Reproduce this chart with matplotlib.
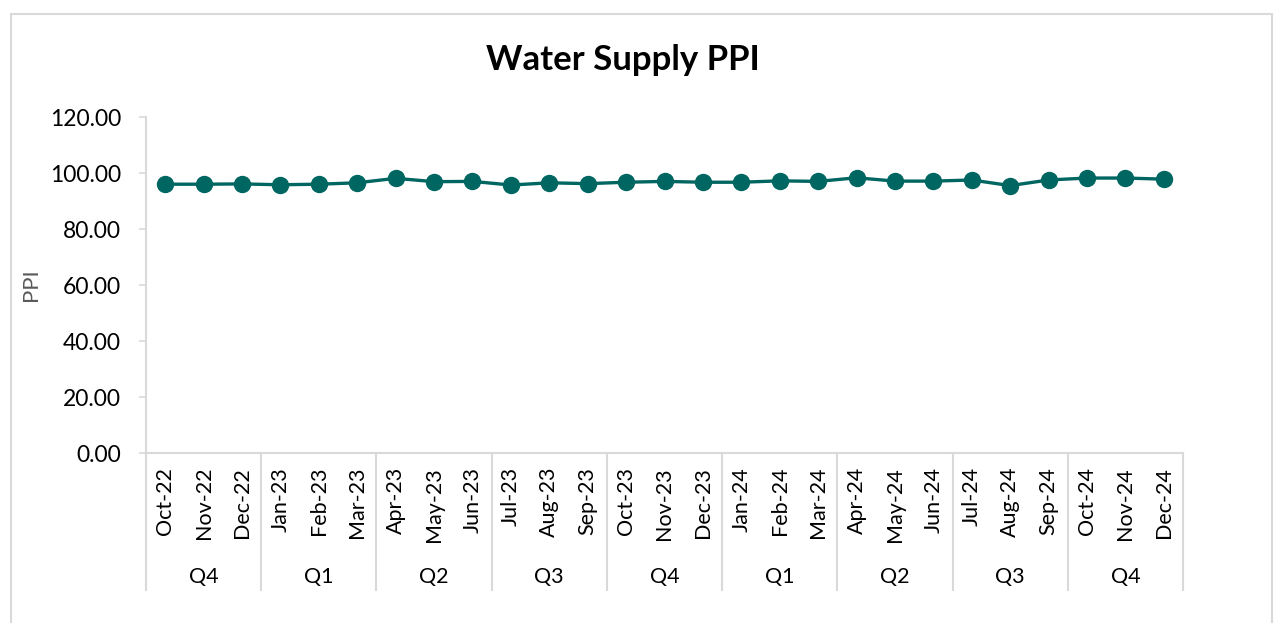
import matplotlib
matplotlib.use("Agg")
import matplotlib.pyplot as plt
from matplotlib.patches import Rectangle
import matplotlib.transforms as mtransforms

months = ["Oct-22", "Nov-22", "Dec-22", "Jan-23", "Feb-23", "Mar-23", "Apr-23", "May-23", "Jun-23",
          "Jul-23", "Aug-23", "Sep-23", "Oct-23", "Nov-23", "Dec-23", "Jan-24", "Feb-24", "Mar-24",
          "Apr-24", "May-24", "Jun-24", "Jul-24", "Aug-24", "Sep-24", "Oct-24", "Nov-24", "Dec-24"]
ppi = [96.0, 96.0, 96.1, 95.8, 96.0, 96.5, 98.1, 96.9, 97.0,
       95.7, 96.5, 96.2, 96.7, 97.0, 96.7, 96.7, 97.2, 97.0,
       98.3, 97.1, 97.1, 97.5, 95.5, 97.5, 98.2, 98.2, 97.8]
quarters = ["Q4", "Q1", "Q2", "Q3", "Q4", "Q1", "Q2", "Q3", "Q4"]
yticks = [0, 20, 40, 60, 80, 100, 120]

plt.rcParams['font.family'] = ['Lato', 'DejaVu Sans']

W, H = 1274, 623
fig = plt.figure(figsize=(W / 100, H / 100), dpi=100)
fig.patch.set_facecolor("white")

# chart border
fig.patches.append(Rectangle((11 / W, -0.01), (1272 - 11) / W, 1 - 14 / H + 0.01,
                             transform=fig.transFigure, fill=False,
                             edgecolor="#d9d9d9", linewidth=1.5))

left, right, top, bottom = 146, 1183, 117, 453
ax = fig.add_axes([left / W, 1 - bottom / H, (right - left) / W, (bottom - top) / H])

x = list(range(len(months)))
ax.plot(x, ppi, color="#006661", linewidth=2.4, marker="o", markersize=11.5,
        markerfacecolor="#006661", markeredgecolor="#006661")

ax.set_xlim(-0.5, len(months) - 0.5)
ax.set_ylim(0, 120)
ax.set_yticks(yticks)
ax.set_yticklabels([f"{v:.2f}" for v in yticks], fontsize=16.5, color="#000000")
ax.tick_params(axis="y", length=5, width=1.2, color="#d9d9d9", pad=13)

ax.set_xticks(x)
ax.set_xticklabels(months, rotation=90, fontsize=15.5, va="top", ha="center")
ax.tick_params(axis="x", length=0, pad=10)

for s in ["top", "right"]:
    ax.spines[s].set_visible(False)
for s in ["left", "bottom"]:
    ax.spines[s].set_color("#d9d9d9")
    ax.spines[s].set_linewidth(1.5)

ax.set_ylabel("PPI", fontsize=16, color="#595959")
ax.yaxis.set_label_coords((41 - left) / (right - left), 0.5)

trans = mtransforms.blended_transform_factory(ax.transData, ax.transAxes)
sep_bottom = (bottom - 590) / (bottom - top)
q_y = (bottom - 577) / (bottom - top)
for i in range(len(quarters) + 1):
    xb = i * 3 - 0.5
    ax.plot([xb, xb], [0, sep_bottom], transform=trans, color="#d9d9d9",
            linewidth=1.5, clip_on=False)
for i, q in enumerate(quarters):
    ax.text(i * 3 + 1, q_y, q, transform=trans, ha="center", va="center",
            fontsize=15.5, color="#000000")

fig.text(623 / W, 1 - 60 / H, "Water Supply PPI", ha="center", va="center",
         fontsize=25, fontweight="bold", color="#000000")

fig.savefig("out.png", dpi=100, facecolor="white")
